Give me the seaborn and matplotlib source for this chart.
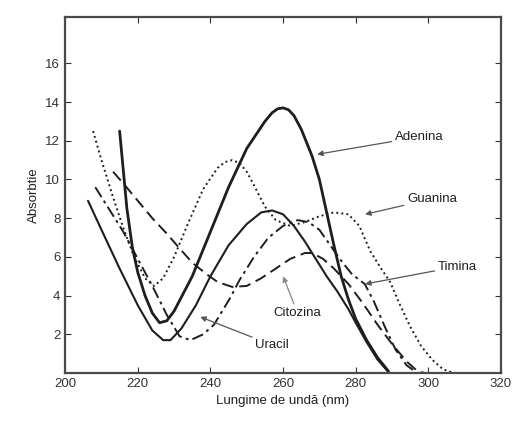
import matplotlib
matplotlib.use("Agg")
import matplotlib.pyplot as plt
import seaborn as sns
import numpy as np

# values (wavelength nm, absorbance x10^3)
adenina_x = [215, 216, 217, 218.5, 220, 222, 224, 226, 228, 230, 235, 240, 245, 250, 255, 257, 258.5, 260,
             261.5, 263, 265, 268, 270, 272, 274, 276, 278, 280, 283, 286, 289]
adenina_y = [12.5, 10.5, 8.5, 6.5, 5.2, 4.0, 3.1, 2.6, 2.7, 3.2, 5.0, 7.3, 9.6, 11.6, 13.0, 13.45, 13.65, 13.7,
             13.6, 13.3, 12.6, 11.2, 10.0, 8.3, 6.6, 5.0, 3.8, 2.8, 1.7, 0.8, 0.1]

uracil_x = [206.3, 210, 215, 220, 224, 227, 229, 232, 236, 240, 245, 250, 254, 257, 260, 263, 266, 269,
            272, 275, 278, 280, 283, 286, 289]
uracil_y = [8.9, 7.4, 5.4, 3.5, 2.2, 1.7, 1.7, 2.3, 3.5, 5.0, 6.6, 7.7, 8.3, 8.4, 8.2, 7.6, 6.8, 5.9,
            5.0, 4.2, 3.3, 2.6, 1.6, 0.7, 0.05]

guanina_x = [207.7, 210, 213, 216, 219, 222, 224.5, 227, 230, 234, 238, 242, 244, 246, 248, 250, 252, 255,
             258, 262, 266, 270, 274, 278, 281, 284, 287, 289.5, 292, 295, 298, 301, 304, 307]
guanina_y = [12.5, 11.0, 9.2, 7.5, 6.0, 4.9, 4.5, 4.9, 6.0, 7.8, 9.5, 10.6, 10.9, 11.0, 10.85, 10.4, 9.7, 8.6,
             7.9, 7.6, 7.8, 8.1, 8.3, 8.2, 7.6, 6.3, 5.4, 4.7, 3.6, 2.4, 1.4, 0.7, 0.2, 0.0]

timina_x = [208.3, 212, 216, 220, 224, 228, 231.5, 234.5, 238, 241, 245.5, 248, 252, 256, 260, 264, 267,
            270, 273, 276, 279, 282.5, 285, 288, 291, 294, 297]
timina_y = [9.6, 8.5, 7.3, 5.9, 4.5, 3.0, 1.9, 1.7, 2.0, 2.5, 3.9, 4.8, 6.0, 7.0, 7.6, 7.9, 7.8,
            7.4, 6.6, 5.8, 5.1, 4.6, 3.7, 2.4, 1.2, 0.4, 0.0]

citozina_x = [213.2, 216, 220, 224, 228, 231.7, 235, 239, 242, 246, 250, 254, 258, 262, 266, 268, 271,
              274, 278, 282, 286, 290, 294, 297, 299]
citozina_y = [10.4, 9.8, 8.9, 8.0, 7.2, 6.4, 5.7, 5.1, 4.7, 4.45, 4.5, 4.9, 5.4, 5.9, 6.2, 6.2, 5.9,
              5.4, 4.6, 3.6, 2.5, 1.5, 0.6, 0.1, 0.0]

x_ticks = [200, 220, 240, 260, 280, 300, 320]
y_ticks = [2, 4, 6, 8, 10, 12, 14, 16]

sns.set_style("ticks")
plt.rcParams['font.family'] = ['Liberation Sans', 'DejaVu Sans']

ink = "#1e1e1e"
fig = plt.figure(figsize=(5.17, 4.22), dpi=100)
ax = fig.add_axes([0.126, 0.116, 0.843, 0.844])

sns.lineplot(x=adenina_x, y=adenina_y, sort=False, color=ink, lw=2.0, ax=ax)
sns.lineplot(x=uracil_x, y=uracil_y, sort=False, color=ink, lw=1.5, ax=ax)
sns.lineplot(x=guanina_x, y=guanina_y, sort=False, color=ink, lw=1.4, ax=ax, linestyle=(0, (1, 1.6)))
sns.lineplot(x=timina_x, y=timina_y, sort=False, color=ink, lw=1.4, ax=ax, linestyle=(0, (6, 2.2, 1.5, 2.2)))
sns.lineplot(x=citozina_x, y=citozina_y, sort=False, color=ink, lw=1.4, ax=ax, linestyle=(0, (6, 3)))

arrow = dict(arrowstyle="-|>", color="#555555", lw=0.9, mutation_scale=8, shrinkA=0, shrinkB=0)
ax.annotate("Adenina", xy=(269.4, 11.3), xytext=(297.5, 12.2), ha="center", va="center",
            fontsize=9.5, color=ink, arrowprops=arrow)
ax.annotate("Guanina", xy=(282.6, 8.2), xytext=(301, 9.0), ha="center", va="center",
            fontsize=9.5, color=ink, arrowprops=arrow)
ax.annotate("Timina", xy=(282.6, 4.6), xytext=(308, 5.5), ha="center", va="center",
            fontsize=9.5, color=ink, arrowprops=arrow)
ax.annotate("Citozina", xy=(260, 5.0), xytext=(264, 3.1), ha="center", va="center",
            fontsize=9.5, color=ink, arrowprops=dict(arrow, color="#888888"))
ax.annotate("Uracil", xy=(237.2, 2.9), xytext=(257, 1.45), ha="center", va="center",
            fontsize=9.5, color=ink, arrowprops=arrow)

ax.set_xlim(200, 320)
ax.set_ylim(0, 18.4)
ax.set_xticks(x_ticks)
ax.set_yticks(y_ticks)
ax.tick_params(direction="in", top=True, right=True, length=4, width=0.8,
               labelsize=9.5, colors="#333333")
for s in ax.spines.values():
    s.set_color("#4a4a4a")
    s.set_linewidth(1.6)
ax.set_xlabel("Lungime de undă (nm)", fontsize=9.5, color=ink)
ax.set_ylabel("Absorbtie", fontsize=9.5, color=ink)

fig.savefig("out.png", dpi=100)
